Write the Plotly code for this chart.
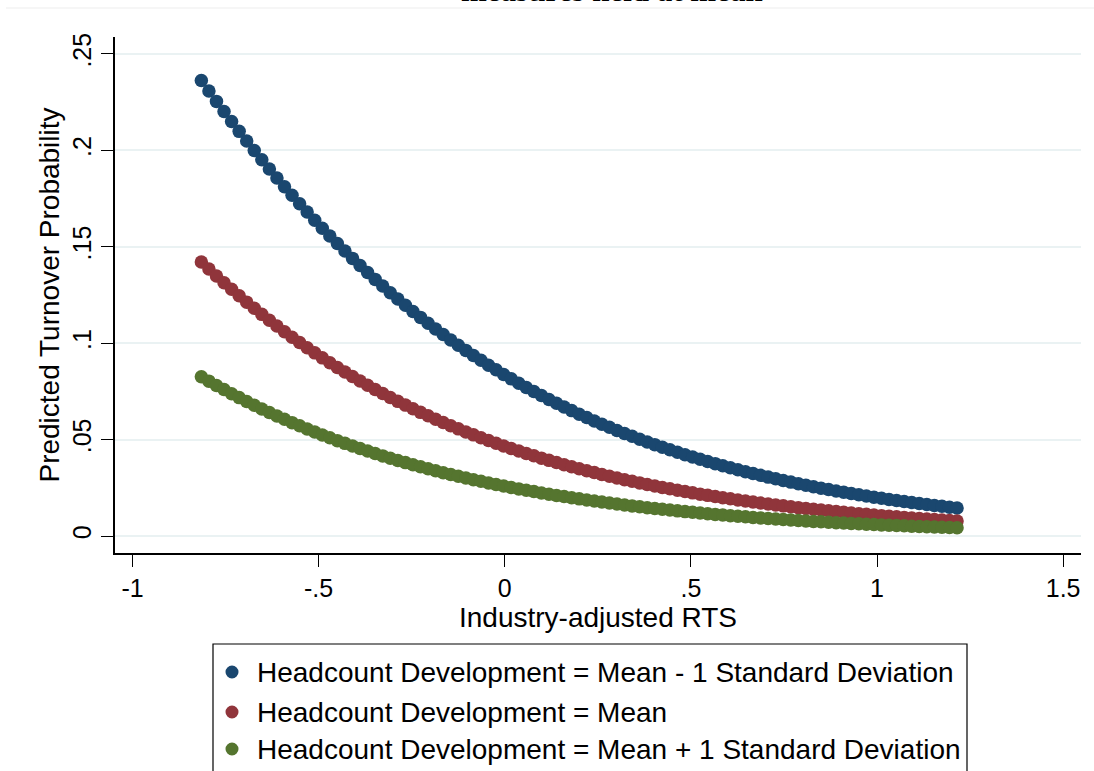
import plotly.graph_objects as go

# ---------------- data ----------------
x_rts = [
    -0.815, -0.7947, -0.7744, -0.7541, -0.7338, -0.7135, -0.6932, -0.6729, -0.6526, -0.6323,
    -0.612, -0.5917, -0.5714, -0.5511, -0.5308, -0.5105, -0.4902, -0.4699, -0.4496, -0.4293,
    -0.409, -0.3887, -0.3684, -0.3481, -0.3278, -0.3075, -0.2872, -0.2669, -0.2466, -0.2263,
    -0.206, -0.1857, -0.1654, -0.1451, -0.1248, -0.1045, -0.0842, -0.0639, -0.0436, -0.0233,
    -0.003, 0.0173, 0.0376, 0.0579, 0.0782, 0.0985, 0.1188, 0.1391, 0.1594, 0.1797,
    0.2, 0.2203, 0.2406, 0.2609, 0.2812, 0.3015, 0.3218, 0.3421, 0.3624, 0.3827,
    0.403, 0.4233, 0.4436, 0.4639, 0.4842, 0.5045, 0.5248, 0.5451, 0.5654, 0.5857,
    0.606, 0.6263, 0.6466, 0.6669, 0.6872, 0.7075, 0.7278, 0.7481, 0.7684, 0.7887,
    0.809, 0.8293, 0.8496, 0.8699, 0.8902, 0.9105, 0.9308, 0.9511, 0.9714, 0.9917,
    1.012, 1.0323, 1.0526, 1.0729, 1.0932, 1.1135, 1.1338, 1.1541, 1.1744, 1.1947, 1.215,
]

p_minus_sd = [
    0.23622, 0.23077, 0.22541, 0.22014, 0.21496, 0.20986, 0.20486, 0.19994, 0.19512, 0.19038,
    0.18573, 0.18117, 0.17669, 0.17231, 0.16801, 0.16380, 0.15967, 0.15562, 0.15166, 0.14779,
    0.14399, 0.14028, 0.13665, 0.13310, 0.12962, 0.12622, 0.12290, 0.11966, 0.11649, 0.11339,
    0.11037, 0.10741, 0.10453, 0.10171, 0.09896, 0.09628, 0.09366, 0.09111, 0.08862, 0.08619,
    0.08382, 0.08151, 0.07926, 0.07707, 0.07493, 0.07285, 0.07082, 0.06884, 0.06691, 0.06504,
    0.06321, 0.06143, 0.05970, 0.05801, 0.05637, 0.05477, 0.05322, 0.05170, 0.05023, 0.04880,
    0.04740, 0.04605, 0.04473, 0.04345, 0.04220, 0.04098, 0.03980, 0.03866, 0.03754, 0.03645,
    0.03540, 0.03437, 0.03338, 0.03241, 0.03147, 0.03055, 0.02966, 0.02880, 0.02796, 0.02714,
    0.02635, 0.02558, 0.02483, 0.02411, 0.02340, 0.02271, 0.02205, 0.02140, 0.02077, 0.02016,
    0.01957, 0.01899, 0.01843, 0.01789, 0.01736, 0.01685, 0.01636, 0.01587, 0.01540, 0.01495, 0.01451,
]

p_mean = [
    0.14216, 0.13848, 0.13489, 0.13138, 0.12794, 0.12458, 0.12130, 0.11809, 0.11496, 0.11189,
    0.10891, 0.10599, 0.10314, 0.10035, 0.09764, 0.09499, 0.09240, 0.08988, 0.08742, 0.08502,
    0.08268, 0.08040, 0.07818, 0.07601, 0.07390, 0.07184, 0.06984, 0.06789, 0.06598, 0.06413,
    0.06233, 0.06057, 0.05886, 0.05720, 0.05558, 0.05400, 0.05247, 0.05098, 0.04952, 0.04811,
    0.04673, 0.04539, 0.04409, 0.04283, 0.04160, 0.04040, 0.03924, 0.03810, 0.03700, 0.03593,
    0.03489, 0.03388, 0.03290, 0.03194, 0.03102, 0.03011, 0.02924, 0.02838, 0.02756, 0.02675,
    0.02597, 0.02521, 0.02447, 0.02376, 0.02306, 0.02239, 0.02173, 0.02109, 0.02047, 0.01987,
    0.01928, 0.01872, 0.01817, 0.01763, 0.01711, 0.01661, 0.01612, 0.01564, 0.01518, 0.01473,
    0.01429, 0.01387, 0.01346, 0.01306, 0.01268, 0.01230, 0.01194, 0.01158, 0.01124, 0.01091,
    0.01058, 0.01027, 0.00996, 0.00967, 0.00938, 0.00910, 0.00883, 0.00857, 0.00831, 0.00807, 0.00783,
]

p_plus_sd = [
    0.08260, 0.08033, 0.07810, 0.07594, 0.07383, 0.07178, 0.06977, 0.06782, 0.06592, 0.06407,
    0.06227, 0.06051, 0.05881, 0.05714, 0.05553, 0.05395, 0.05242, 0.05092, 0.04947, 0.04806,
    0.04669, 0.04535, 0.04405, 0.04279, 0.04156, 0.04036, 0.03920, 0.03807, 0.03697, 0.03590,
    0.03486, 0.03385, 0.03287, 0.03191, 0.03099, 0.03008, 0.02921, 0.02836, 0.02753, 0.02673,
    0.02595, 0.02519, 0.02445, 0.02373, 0.02304, 0.02236, 0.02171, 0.02107, 0.02045, 0.01985,
    0.01927, 0.01870, 0.01815, 0.01761, 0.01709, 0.01659, 0.01610, 0.01563, 0.01516, 0.01472,
    0.01428, 0.01386, 0.01345, 0.01305, 0.01266, 0.01229, 0.01192, 0.01157, 0.01123, 0.01089,
    0.01057, 0.01026, 0.00995, 0.00966, 0.00937, 0.00909, 0.00882, 0.00856, 0.00830, 0.00806,
    0.00782, 0.00759, 0.00736, 0.00714, 0.00693, 0.00672, 0.00652, 0.00633, 0.00614, 0.00596,
    0.00578, 0.00561, 0.00544, 0.00528, 0.00512, 0.00497, 0.00482, 0.00467, 0.00453, 0.00440, 0.00427,
]

series_names = [
    "Headcount Development = Mean - 1 Standard Deviation",
    "Headcount Development = Mean",
    "Headcount Development = Mean + 1 Standard Deviation",
]
series_values = [p_minus_sd, p_mean, p_plus_sd]
series_colors = ["#1a476f", "#90353b", "#55752f"]

x_tickvals = [-1, -0.5, 0, 0.5, 1, 1.5]
x_ticktext = ["-1", "-.5", "0", ".5", "1", "1.5"]
y_tickvals = [0, 0.05, 0.1, 0.15, 0.2, 0.25]
y_ticktext = ["0", ".05", ".1", ".15", ".2", ".25"]

title_text = "measures held at mean"
x_title = "Industry-adjusted RTS"
y_title = "Predicted Turnover Probability"

# ---------------- layout geometry ----------------
W, H = 1094, 771
ML, MR, MT, MB = 115, 13, 37, 218
PW = W - ML - MR
PH = H - MT - MB


def pxx(xp):
    return (xp - ML) / PW


def pyy(yp):
    return (H - MB - yp) / PH


SANS = "Liberation Sans, Arial, Helvetica, sans-serif"

fig = go.Figure()
for name, vals, col in zip(series_names, series_values, series_colors):
    fig.add_trace(go.Scatter(
        x=x_rts, y=vals, mode="markers", name=name,
        marker=dict(color=col, size=13.5, line=dict(width=0)),
        showlegend=False,
    ))

shapes = []
annotations = []

# faint frame line near top
shapes.append(dict(type="line", xref="paper", yref="paper",
                   x0=pxx(6), x1=pxx(1094), y0=pyy(8), y1=pyy(8),
                   line=dict(color="#ededed", width=1)))

# cropped title (only its lower edge is visible in the reference)
annotations.append(dict(text="<b>" + title_text + "</b>", xref="paper", yref="paper",
                        x=pxx(612), y=pyy(-10), xanchor="center", yanchor="middle",
                        showarrow=False,
                        font=dict(family="Liberation Serif, Times New Roman, serif", size=31, color="black")))

# manual legend (box cropped at the bottom of the picture)
shapes.append(dict(type="rect", xref="paper", yref="paper",
                   x0=pxx(213), x1=pxx(967), y0=pyy(644), y1=pyy(800),
                   line=dict(color="black", width=1.2), fillcolor="rgba(0,0,0,0)"))
row_y = [672, 712, 749]
for name, col, ry in zip(series_names, series_colors, row_y):
    shapes.append(dict(type="circle", xref="paper", yref="paper",
                       xsizemode="pixel", ysizemode="pixel",
                       xanchor=pxx(232), yanchor=pyy(ry),
                       x0=-6.5, x1=6.5, y0=-6.5, y1=6.5,
                       fillcolor=col, line=dict(width=0)))
    annotations.append(dict(text=name, xref="paper", yref="paper",
                            x=pxx(255), y=pyy(ry), xanchor="left", yanchor="middle",
                            showarrow=False,
                            font=dict(family=SANS, size=28, color="black")))

fig.update_layout(
    width=W, height=H,
    margin=dict(l=ML, r=MR, t=MT, b=MB, autoexpand=False),
    paper_bgcolor="white", plot_bgcolor="white",
    shapes=shapes, annotations=annotations,
    font=dict(family=SANS, color="black"),
)

fig.update_xaxes(
    range=[-1.047, 1.548], tickvals=x_tickvals, ticktext=x_ticktext,
    showgrid=False, zeroline=False,
    showline=True, linecolor="black", linewidth=1.5,
    ticks="outside", ticklen=12, tickwidth=1.2, tickcolor="black",
    tickfont=dict(size=25, family=SANS, color="black"),
    title=dict(text=x_title, font=dict(size=28, family=SANS, color="black"), standoff=7),
)
fig.update_yaxes(
    range=[-0.0088, 0.2588], tickvals=y_tickvals, ticktext=y_ticktext,
    tickangle=-90,
    showgrid=True, gridcolor="#eaf2f3", gridwidth=2, zeroline=False,
    showline=True, linecolor="black", linewidth=1.5,
    ticks="outside", ticklen=12, tickwidth=1.2, tickcolor="black",
    tickfont=dict(size=25, family=SANS, color="black"),
    title=dict(text=y_title, font=dict(size=28, family=SANS, color="black"), standoff=0),
)

fig.write_html(
    "out.html",
    config={"displayModeBar": False},
    post_script="document.body.style.margin='0px';document.body.style.overflow='hidden';",
)
